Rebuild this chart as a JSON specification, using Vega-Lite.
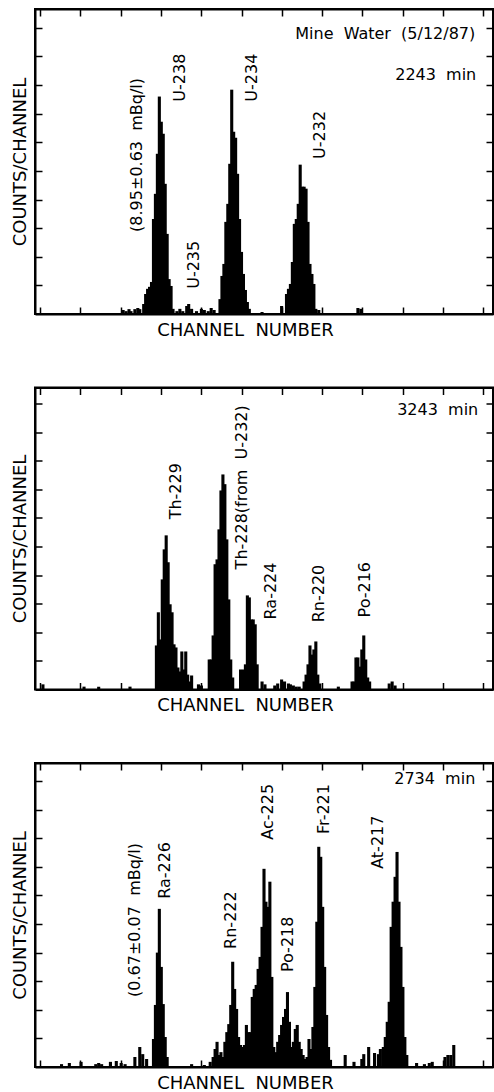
{
 "$schema": "https://vega.github.io/schema/vega-lite/v6.json",
 "background": "white",
 "padding": {"left": 10, "top": 7, "right": 0, "bottom": 0},
 "spacing": 73.5,
 "bounds": "flush",
 "config": {
  "view": {"stroke": "black", "strokeWidth": 2},
  "axis": {"grid": false, "labels": false, "tickColor": "black", "tickWidth": 1.5, "tickSize": -7, "domainColor": "black", "domainWidth": 2, "titleFont": "DejaVu Sans", "titleFontWeight": "normal", "titleColor": "black", "titleFontSize": 18},
  "text": {"font": "DejaVu Sans", "fontSize": 16, "color": "black"}
 },
 "datasets": {
  "p1": [
   {"ch":85,"cnt":1.4},{"ch":88,"cnt":1.0},{"ch":91,"cnt":1.7},{"ch":93,"cnt":1.0},{"ch":97,"cnt":1.7},{"ch":100,"cnt":2.1},{"ch":102,"cnt":1.7},
   {"ch":106,"cnt":3.5},{"ch":108,"cnt":7},{"ch":110,"cnt":8.8},{"ch":112,"cnt":9.5},{"ch":114,"cnt":11.2},{"ch":116,"cnt":33.2},{"ch":118,"cnt":42},{"ch":120,"cnt":56},{"ch":122,"cnt":76},{"ch":124,"cnt":67.2},{"ch":126,"cnt":63},{"ch":128,"cnt":45.5},{"ch":130,"cnt":28},{"ch":132,"cnt":12.2},{"ch":134,"cnt":9.8},{"ch":136,"cnt":1.8},
   {"ch":140,"cnt":1},{"ch":143,"cnt":1.8},{"ch":146,"cnt":1},{"ch":150,"cnt":2.8},{"ch":152,"cnt":3.5},{"ch":155,"cnt":1.8},{"ch":160,"cnt":1},{"ch":165,"cnt":1.8},{"ch":168,"cnt":1.4},{"ch":172,"cnt":1},{"ch":175,"cnt":2.1},{"ch":178,"cnt":1.4},
   {"ch":184,"cnt":5.2},{"ch":186,"cnt":13.3},{"ch":188,"cnt":17.5},{"ch":190,"cnt":32.2},{"ch":192,"cnt":38.5},{"ch":194,"cnt":52.5},{"ch":196,"cnt":78.4},{"ch":198,"cnt":63.7},{"ch":200,"cnt":61.6},{"ch":202,"cnt":49},{"ch":204,"cnt":33.2},{"ch":206,"cnt":21.7},{"ch":208,"cnt":14},{"ch":210,"cnt":8.4},{"ch":212,"cnt":4.2},{"ch":214,"cnt":1.8},
   {"ch":227,"cnt":0.7},{"ch":247,"cnt":2.8},
   {"ch":252,"cnt":7},{"ch":254,"cnt":8.8},{"ch":256,"cnt":10.5},{"ch":258,"cnt":18.2},{"ch":260,"cnt":31.5},{"ch":262,"cnt":33.2},{"ch":264,"cnt":38.5},{"ch":266,"cnt":52.2},{"ch":268,"cnt":44.5},{"ch":270,"cnt":44.5},{"ch":272,"cnt":43.8},{"ch":274,"cnt":32.2},{"ch":276,"cnt":17.5},{"ch":278,"cnt":14},{"ch":280,"cnt":10.5},{"ch":282,"cnt":1.8},
   {"ch":285,"cnt":1.4},{"ch":325,"cnt":2.1},{"ch":328,"cnt":1.8}
  ],
  "p1lab": [
   {"ch":99,"cnt":28.7,"label":"(8.95±0.63\u00a0\u00a0mBq/l)"},
   {"ch":143,"cnt":74.2,"label":"U-238"},
   {"ch":157,"cnt":8.8,"label":"U-235"},
   {"ch":217,"cnt":74.2,"label":"U-234"},
   {"ch":286,"cnt":54.2,"label":"U-232"}
  ],
  "p1txt": [
   {"ch":445,"cnt":96.2,"label":"Mine\u00a0\u00a0Water\u00a0\u00a0(5/12/87)"},
   {"ch":446,"cnt":81.9,"label":"2243\u00a0\u00a0min"}
  ],
  "p2": [
   {"ch":3,"cnt":1.8},{"ch":45,"cnt":1},{"ch":60,"cnt":1},{"ch":92,"cnt":1},{"ch":162,"cnt":1.8},{"ch":165,"cnt":1.4},
   {"ch":119,"cnt":15.4},{"ch":121,"cnt":27},{"ch":123,"cnt":17.5},{"ch":125,"cnt":38.5},{"ch":127,"cnt":49},{"ch":129,"cnt":53.9},{"ch":131,"cnt":44.5},{"ch":133,"cnt":29.8},{"ch":135,"cnt":27},{"ch":137,"cnt":15.8},{"ch":139,"cnt":14.7},{"ch":141,"cnt":7.7},{"ch":143,"cnt":6.3},{"ch":145,"cnt":13.3},{"ch":147,"cnt":7},{"ch":149,"cnt":13.3},{"ch":151,"cnt":5.2},{"ch":153,"cnt":2.8},{"ch":155,"cnt":4.9},
   {"ch":173,"cnt":10.5},{"ch":175,"cnt":10.5},{"ch":177,"cnt":18.9},{"ch":179,"cnt":43.8},{"ch":181,"cnt":45.5},{"ch":183,"cnt":56},{"ch":185,"cnt":69.6},{"ch":187,"cnt":75.2},{"ch":189,"cnt":71.8},{"ch":191,"cnt":52.5},{"ch":193,"cnt":31.5},{"ch":195,"cnt":10.5},{"ch":197,"cnt":4.2},
   {"ch":205,"cnt":7},
   {"ch":208,"cnt":7},{"ch":210,"cnt":8.8},{"ch":212,"cnt":32.9},{"ch":214,"cnt":32.2},{"ch":216,"cnt":24.5},{"ch":218,"cnt":24.5},{"ch":220,"cnt":22.8},{"ch":222,"cnt":8.8},
   {"ch":227,"cnt":2.8},{"ch":230,"cnt":1.8},{"ch":240,"cnt":1.4},{"ch":243,"cnt":2.1},{"ch":247,"cnt":3.5},{"ch":250,"cnt":2.8},{"ch":254,"cnt":2.1},{"ch":256,"cnt":1.8},{"ch":259,"cnt":1.4},{"ch":262,"cnt":1},{"ch":265,"cnt":1},
   {"ch":270,"cnt":2.8},{"ch":272,"cnt":5.2},{"ch":274,"cnt":8.8},{"ch":276,"cnt":15.4},{"ch":278,"cnt":12.2},{"ch":280,"cnt":14},{"ch":282,"cnt":16.8},{"ch":284,"cnt":5.2},{"ch":286,"cnt":2.1},
   {"ch":305,"cnt":1},
   {"ch":319,"cnt":2.8},{"ch":321,"cnt":2.8},{"ch":323,"cnt":11.2},{"ch":325,"cnt":11.2},{"ch":327,"cnt":8},{"ch":329,"cnt":14},{"ch":331,"cnt":18.9},{"ch":333,"cnt":10.5},{"ch":335,"cnt":4.2},{"ch":337,"cnt":2.8},
   {"ch":357,"cnt":2.1},{"ch":360,"cnt":2.8},{"ch":363,"cnt":1.4}
  ],
  "p2lab": [
   {"ch":139,"cnt":59.5,"label":"Th-229"},
   {"ch":206,"cnt":42,"label":"Th-228(from\u00a0\u00a0U-232)"},
   {"ch":236,"cnt":24.5,"label":"Ra-224"},
   {"ch":285,"cnt":23.5,"label":"Rn-220"},
   {"ch":332,"cnt":25.2,"label":"Po-216"}
  ],
  "p2txt": [
   {"ch":448,"cnt":95.9,"label":"3243\u00a0\u00a0min"}
  ],
  "p3": [
   {"ch":22,"cnt":1},{"ch":30,"cnt":1.4},{"ch":42,"cnt":1.8},{"ch":57,"cnt":1},{"ch":60,"cnt":1.4},{"ch":63,"cnt":1},{"ch":72,"cnt":1.8},{"ch":78,"cnt":2.1},{"ch":83,"cnt":1.4},{"ch":87,"cnt":1},{"ch":97,"cnt":3.5},{"ch":102,"cnt":7},{"ch":105,"cnt":4.5},{"ch":109,"cnt":2.8},
   {"ch":116,"cnt":9.8},{"ch":118,"cnt":21.7},{"ch":120,"cnt":40},{"ch":122,"cnt":55.3},{"ch":124,"cnt":35},{"ch":126,"cnt":22},{"ch":128,"cnt":10.5},{"ch":130,"cnt":3.5},
   {"ch":155,"cnt":1},{"ch":168,"cnt":0.7},
   {"ch":174,"cnt":1.8},{"ch":177,"cnt":3.5},{"ch":179,"cnt":6.3},{"ch":181,"cnt":8.8},{"ch":183,"cnt":4.2},{"ch":185,"cnt":5.2},{"ch":187,"cnt":3.5},{"ch":189,"cnt":8.8},{"ch":191,"cnt":12.2},{"ch":193,"cnt":15},{"ch":195,"cnt":21.7},{"ch":197,"cnt":36.8},{"ch":199,"cnt":27.3},{"ch":201,"cnt":20.3},{"ch":203,"cnt":10.5},{"ch":205,"cnt":7.7},{"ch":207,"cnt":7},{"ch":209,"cnt":7.7},{"ch":211,"cnt":14.7},{"ch":213,"cnt":12.2},{"ch":215,"cnt":12.2},
   {"ch":217,"cnt":24.5},{"ch":219,"cnt":27.3},{"ch":221,"cnt":28.7},{"ch":223,"cnt":34.3},{"ch":225,"cnt":38.5},{"ch":227,"cnt":49},{"ch":229,"cnt":69.3},{"ch":231,"cnt":57.8},{"ch":233,"cnt":56},{"ch":235,"cnt":64.8},{"ch":237,"cnt":31.5},{"ch":239,"cnt":7},
   {"ch":241,"cnt":5.2},{"ch":243,"cnt":8.8},{"ch":245,"cnt":11.2},{"ch":247,"cnt":14.7},{"ch":249,"cnt":17.5},{"ch":251,"cnt":20.3},{"ch":253,"cnt":26.2},{"ch":255,"cnt":15.8},{"ch":257,"cnt":7},{"ch":259,"cnt":8.8},{"ch":261,"cnt":13.3},{"ch":263,"cnt":14.7},{"ch":265,"cnt":8.8},{"ch":267,"cnt":6.3},{"ch":269,"cnt":4.2},{"ch":271,"cnt":2.8},
   {"ch":273,"cnt":3.5},{"ch":275,"cnt":9.8},{"ch":277,"cnt":6.3},{"ch":279,"cnt":14},{"ch":281,"cnt":28},{"ch":283,"cnt":50.8},{"ch":285,"cnt":77},{"ch":287,"cnt":73.5},{"ch":289,"cnt":56},{"ch":291,"cnt":35},{"ch":293,"cnt":18.2},{"ch":295,"cnt":7},{"ch":297,"cnt":2.5},
   {"ch":312,"cnt":4.2},{"ch":321,"cnt":1.8},{"ch":329,"cnt":2.8},{"ch":331,"cnt":4.5},{"ch":336,"cnt":7},{"ch":342,"cnt":4.9},{"ch":346,"cnt":4.5},{"ch":348,"cnt":6.3},
   {"ch":351,"cnt":7},{"ch":353,"cnt":10.5},{"ch":355,"cnt":15.8},{"ch":357,"cnt":22.8},{"ch":359,"cnt":49},{"ch":361,"cnt":57.8},{"ch":363,"cnt":66.5},{"ch":365,"cnt":75.2},{"ch":367,"cnt":57.8},{"ch":369,"cnt":42},{"ch":371,"cnt":28},{"ch":373,"cnt":10.5},{"ch":375,"cnt":4.2},
   {"ch":385,"cnt":1.4},{"ch":393,"cnt":1},{"ch":398,"cnt":1.4},{"ch":401,"cnt":1.8},{"ch":414,"cnt":3.5},{"ch":417,"cnt":4.2},{"ch":420,"cnt":4.2},{"ch":423,"cnt":7.7}
  ],
  "p3lab": [
   {"ch":97,"cnt":24.5,"label":"(0.67±0.07\u00a0\u00a0mBq/l)"},
   {"ch":128,"cnt":58.8,"label":"Ra-226"},
   {"ch":195,"cnt":41.3,"label":"Rn-222"},
   {"ch":233,"cnt":79.5,"label":"Ac-225"},
   {"ch":254,"cnt":33.2,"label":"Po-218"},
   {"ch":290,"cnt":81.5,"label":"Fr-221"},
   {"ch":346,"cnt":69.3,"label":"At-217"}
  ],
  "p3txt": [
   {"ch":445,"cnt":99,"label":"2734\u00a0\u00a0min"}
  ]
 },
 "vconcat": [
  {
   "width": 458, "height": 305,
   "resolve": {"axis": {"x": "independent", "y": "independent"}},
   "layer": [
    {"data": {"name": "p1"}, "mark": {"type": "bar", "width": 3.1, "color": "black"},
     "encoding": {
      "x": {"field": "ch", "type": "quantitative", "scale": {"domain": [0, 458], "nice": false}, "axis": {"orient": "bottom", "values": [0,41.2,82.4,123.6,164.8,206,247.2,288.4,329.6,370.8,412,453.2], "title": "CHANNEL\u00a0\u00a0NUMBER", "titleX": 210, "titleY": 21, "titleAlign": "center", "titleBaseline": "alphabetic"}},
      "y": {"field": "cnt", "type": "quantitative", "scale": {"domain": [0, 106.6], "nice": false}, "axis": {"orient": "left", "values": [10,20,30,40,50,60,70,80,90,100], "title": "COUNTS/CHANNEL", "titleAngle": 270, "titleX": -10, "titleY": 152.5, "titleAlign": "center", "titleBaseline": "alphabetic"}}
     }},
    {"data": {"name": "p1lab"}, "mark": {"type": "text", "angle": 270, "align": "left", "baseline": "middle"},
     "encoding": {
      "x": {"field": "ch", "type": "quantitative", "scale": {"domain": [0, 458], "nice": false}, "axis": {"orient": "top", "values": [0,41.2,82.4,123.6,164.8,206,247.2,288.4,329.6,370.8,412,453.2], "title": null}},
      "y": {"field": "cnt", "type": "quantitative", "scale": {"domain": [0, 106.6], "nice": false}, "axis": {"orient": "right", "values": [10,20,30,40,50,60,70,80,90,100], "title": null}},
      "text": {"field": "label"}
     }},
    {"data": {"name": "p1txt"}, "mark": {"type": "text", "align": "right", "baseline": "alphabetic"},
     "encoding": {
      "x": {"field": "ch", "type": "quantitative", "axis": null},
      "y": {"field": "cnt", "type": "quantitative", "axis": null},
      "text": {"field": "label"}
     }}
   ]
  },
  {
   "width": 458, "height": 302,
   "resolve": {"axis": {"x": "independent", "y": "independent"}},
   "layer": [
    {"data": {"name": "p2"}, "mark": {"type": "bar", "width": 3.1, "color": "black"},
     "encoding": {
      "x": {"field": "ch", "type": "quantitative", "scale": {"domain": [0, 458], "nice": false}, "axis": {"orient": "bottom", "values": [0,41.2,82.4,123.6,164.8,206,247.2,288.4,329.6,370.8,412,453.2], "title": "CHANNEL\u00a0\u00a0NUMBER", "titleX": 210, "titleY": 21, "titleAlign": "center", "titleBaseline": "alphabetic"}},
      "y": {"field": "cnt", "type": "quantitative", "scale": {"domain": [0, 105.6], "nice": false}, "axis": {"orient": "left", "values": [10,20,30,40,50,60,70,80,90,100], "title": "COUNTS/CHANNEL", "titleAngle": 270, "titleX": -10, "titleY": 151, "titleAlign": "center", "titleBaseline": "alphabetic"}}
     }},
    {"data": {"name": "p2lab"}, "mark": {"type": "text", "angle": 270, "align": "left", "baseline": "middle"},
     "encoding": {
      "x": {"field": "ch", "type": "quantitative", "scale": {"domain": [0, 458], "nice": false}, "axis": {"orient": "top", "values": [0,41.2,82.4,123.6,164.8,206,247.2,288.4,329.6,370.8,412,453.2], "title": null}},
      "y": {"field": "cnt", "type": "quantitative", "scale": {"domain": [0, 105.6], "nice": false}, "axis": {"orient": "right", "values": [10,20,30,40,50,60,70,80,90,100], "title": null}},
      "text": {"field": "label"}
     }},
    {"data": {"name": "p2txt"}, "mark": {"type": "text", "align": "right", "baseline": "alphabetic"},
     "encoding": {
      "x": {"field": "ch", "type": "quantitative", "axis": null},
      "y": {"field": "cnt", "type": "quantitative", "axis": null},
      "text": {"field": "label"}
     }}
   ]
  },
  {
   "width": 458, "height": 304,
   "resolve": {"axis": {"x": "independent", "y": "independent"}},
   "layer": [
    {"data": {"name": "p3"}, "mark": {"type": "bar", "width": 3.1, "color": "black"},
     "encoding": {
      "x": {"field": "ch", "type": "quantitative", "scale": {"domain": [0, 458], "nice": false}, "axis": {"orient": "bottom", "values": [0,41.2,82.4,123.6,164.8,206,247.2,288.4,329.6,370.8,412,453.2], "title": "CHANNEL\u00a0\u00a0NUMBER", "titleX": 210, "titleY": 21, "titleAlign": "center", "titleBaseline": "alphabetic"}},
      "y": {"field": "cnt", "type": "quantitative", "scale": {"domain": [0, 106.3], "nice": false}, "axis": {"orient": "left", "values": [10,20,30,40,50,60,70,80,90,100], "title": "COUNTS/CHANNEL", "titleAngle": 270, "titleX": -10, "titleY": 152, "titleAlign": "center", "titleBaseline": "alphabetic"}}
     }},
    {"data": {"name": "p3lab"}, "mark": {"type": "text", "angle": 270, "align": "left", "baseline": "middle"},
     "encoding": {
      "x": {"field": "ch", "type": "quantitative", "scale": {"domain": [0, 458], "nice": false}, "axis": {"orient": "top", "values": [0,41.2,82.4,123.6,164.8,206,247.2,288.4,329.6,370.8,412,453.2], "title": null}},
      "y": {"field": "cnt", "type": "quantitative", "scale": {"domain": [0, 106.3], "nice": false}, "axis": {"orient": "right", "values": [10,20,30,40,50,60,70,80,90,100], "title": null}},
      "text": {"field": "label"}
     }},
    {"data": {"name": "p3txt"}, "mark": {"type": "text", "align": "right", "baseline": "alphabetic"},
     "encoding": {
      "x": {"field": "ch", "type": "quantitative", "axis": null},
      "y": {"field": "cnt", "type": "quantitative", "axis": null},
      "text": {"field": "label"}
     }}
   ]
  }
 ]
}
